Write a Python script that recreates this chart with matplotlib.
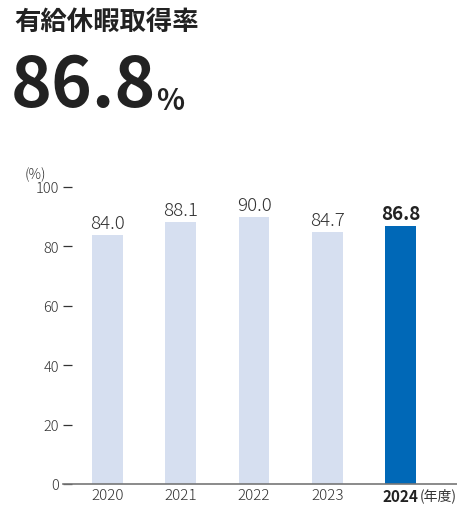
import numpy as np
import matplotlib
matplotlib.use("Agg")
import matplotlib.pyplot as plt

plt.rcParams['font.family'] = ['Noto Sans CJK JP', 'DejaVu Sans']

years = ['2020', '2021', '2022', '2023', '2024']
rates = [84.0, 88.1, 90.0, 84.7, 86.8]
yticks = [0, 20, 40, 60, 80, 100]
bar_colors = ['#d6dff0', '#d6dff0', '#d6dff0', '#d6dff0', '#0068b7']
text_col = '#333333'

fig = plt.figure(figsize=(4.57, 5.06), dpi=100)

# header
fig.text(14 / 457, 1 - 22 / 506, '有給休暇取得率', fontsize=19, fontweight='bold',
         color='#222222', va='center', ha='left')
fig.text(11 / 457, 1 - 87 / 506, '86.8', fontsize=50, fontweight='bold',
         color='#222222', va='center', ha='left')
fig.text(156 / 457, 1 - 101 / 506, '%', fontsize=21, fontweight='bold',
         color='#222222', va='center', ha='left')

ax = fig.add_axes([63 / 457, 1 - 485 / 506, 1 - 63 / 457, (485 - 188) / 506])
x = np.arange(len(years))
ax.bar(x, rates, width=0.42, color=bar_colors)

for i, v in enumerate(rates):
    bold = i == len(rates) - 1
    ax.text(i, v + 1.0, f'{v:.1f}', ha='center', va='bottom', fontsize=13.5,
            color='#222222' if bold else text_col,
            fontweight='bold' if bold else 'light')

ax.set_xlim(-0.607, 4.77)
ax.set_ylim(0, 100)
ax.set_yticks(yticks)
ax.set_yticklabels([str(t) for t in yticks], fontsize=10.5, color=text_col,
                   fontweight='light')
ax.set_xticks(x)
ax.set_xticklabels(years, fontsize=11, color=text_col, fontweight='light')
ax.get_xticklabels()[-1].set_fontweight('bold')
ax.get_xticklabels()[-1].set_color('#222222')

for s in ['top', 'right', 'left']:
    ax.spines[s].set_visible(False)
ax.spines['bottom'].set_color('#777777')
ax.spines['bottom'].set_linewidth(1.2)
ax.tick_params(axis='y', direction='in', length=6.5, width=0.9, color=text_col, pad=3)
ax.tick_params(axis='x', length=0, pad=3)

fig.text(35 / 457, 1 - 175 / 506, '(%)', fontsize=10, color=text_col,
         ha='center', va='center', fontweight='light')
fig.text(420 / 457, 1 - 496 / 506, '(年度)', fontsize=10, color=text_col,
         ha='left', va='center')

fig.savefig('out.png', dpi=100)
